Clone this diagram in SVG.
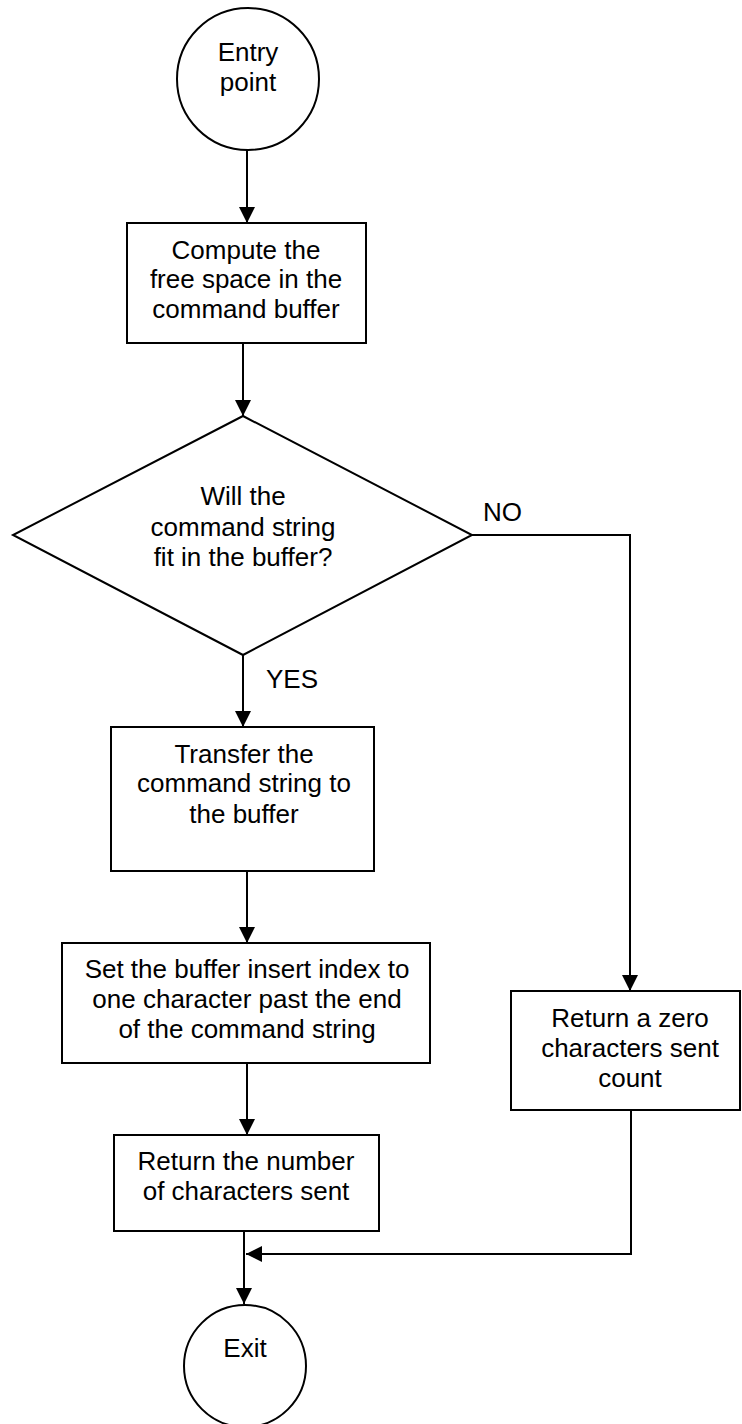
<svg xmlns="http://www.w3.org/2000/svg" width="742" height="1424" viewBox="0 0 742 1424">
<defs>
<style>
.shape{fill:#fff;stroke:#000;stroke-width:2}
.edge{fill:none;stroke:#000;stroke-width:2}
text{font-family:"Liberation Sans",Arial,sans-serif;font-size:26px;fill:#000}
.c{text-anchor:middle}
</style>
<marker id="ah" markerUnits="userSpaceOnUse" markerWidth="16" markerHeight="16" refX="16" refY="8" orient="auto">
<path d="M0,0 L16,8 L0,16 Z" fill="#000"/>
</marker>
</defs>
<rect width="742" height="1424" fill="#fff"/>
<g id="connectors">
<line class="edge" x1="247" y1="150" x2="247" y2="223" marker-end="url(#ah)"/>
<line class="edge" x1="243" y1="343" x2="243" y2="416" marker-end="url(#ah)"/>
<line class="edge" x1="243" y1="655" x2="243" y2="727" marker-end="url(#ah)"/>
<polyline class="edge" points="472,535 630,535 630,991" marker-end="url(#ah)"/>
<line class="edge" x1="247" y1="871" x2="247" y2="943" marker-end="url(#ah)"/>
<line class="edge" x1="247" y1="1063" x2="247" y2="1135" marker-end="url(#ah)"/>
<line class="edge" x1="244" y1="1231" x2="244" y2="1304" marker-end="url(#ah)"/>
<polyline class="edge" points="631,1110 631,1254 246,1254" marker-end="url(#ah)"/>
<text x="483" y="521">NO</text>
<text x="266" y="688">YES</text>
</g>
<g id="entry">
<circle class="shape" cx="248" cy="79" r="71"/>
<text class="c" x="248" y="61">Entry</text>
<text class="c" x="248" y="91">point</text>
</g>
<g id="compute">
<rect class="shape" x="127" y="223" width="239" height="120"/>
<text class="c" x="246" y="259">Compute the</text>
<text class="c" x="246" y="288">free space in the</text>
<text class="c" x="246" y="318">command buffer</text>
</g>
<g id="decision">
<polygon class="shape" points="243,416 472,535 243,655 13,535"/>
<text class="c" x="243" y="505">Will the</text>
<text class="c" x="243" y="536">command string</text>
<text class="c" x="243" y="566">fit in the buffer?</text>
</g>
<g id="transfer">
<rect class="shape" x="111" y="727" width="263" height="144"/>
<text class="c" x="244" y="763">Transfer the</text>
<text class="c" x="244" y="792">command string to</text>
<text class="c" x="244" y="823">the buffer</text>
</g>
<g id="setindex">
<rect class="shape" x="62" y="943" width="368" height="120"/>
<text class="c" x="247" y="978">Set the buffer insert index to</text>
<text class="c" x="247" y="1008">one character past the end</text>
<text class="c" x="247" y="1038">of the command string</text>
</g>
<g id="returnzero">
<rect class="shape" x="511" y="991" width="229" height="119"/>
<text class="c" x="630" y="1027">Return a zero</text>
<text class="c" x="630" y="1057">characters sent</text>
<text class="c" x="630" y="1087">count</text>
</g>
<g id="returnnumber">
<rect class="shape" x="114" y="1135" width="265" height="96"/>
<text class="c" x="246" y="1170">Return the number</text>
<text class="c" x="246" y="1200">of characters sent</text>
</g>
<g id="exit">
<circle class="shape" cx="245" cy="1366" r="61"/>
<text class="c" x="245" y="1357">Exit</text>
</g>
</svg>
